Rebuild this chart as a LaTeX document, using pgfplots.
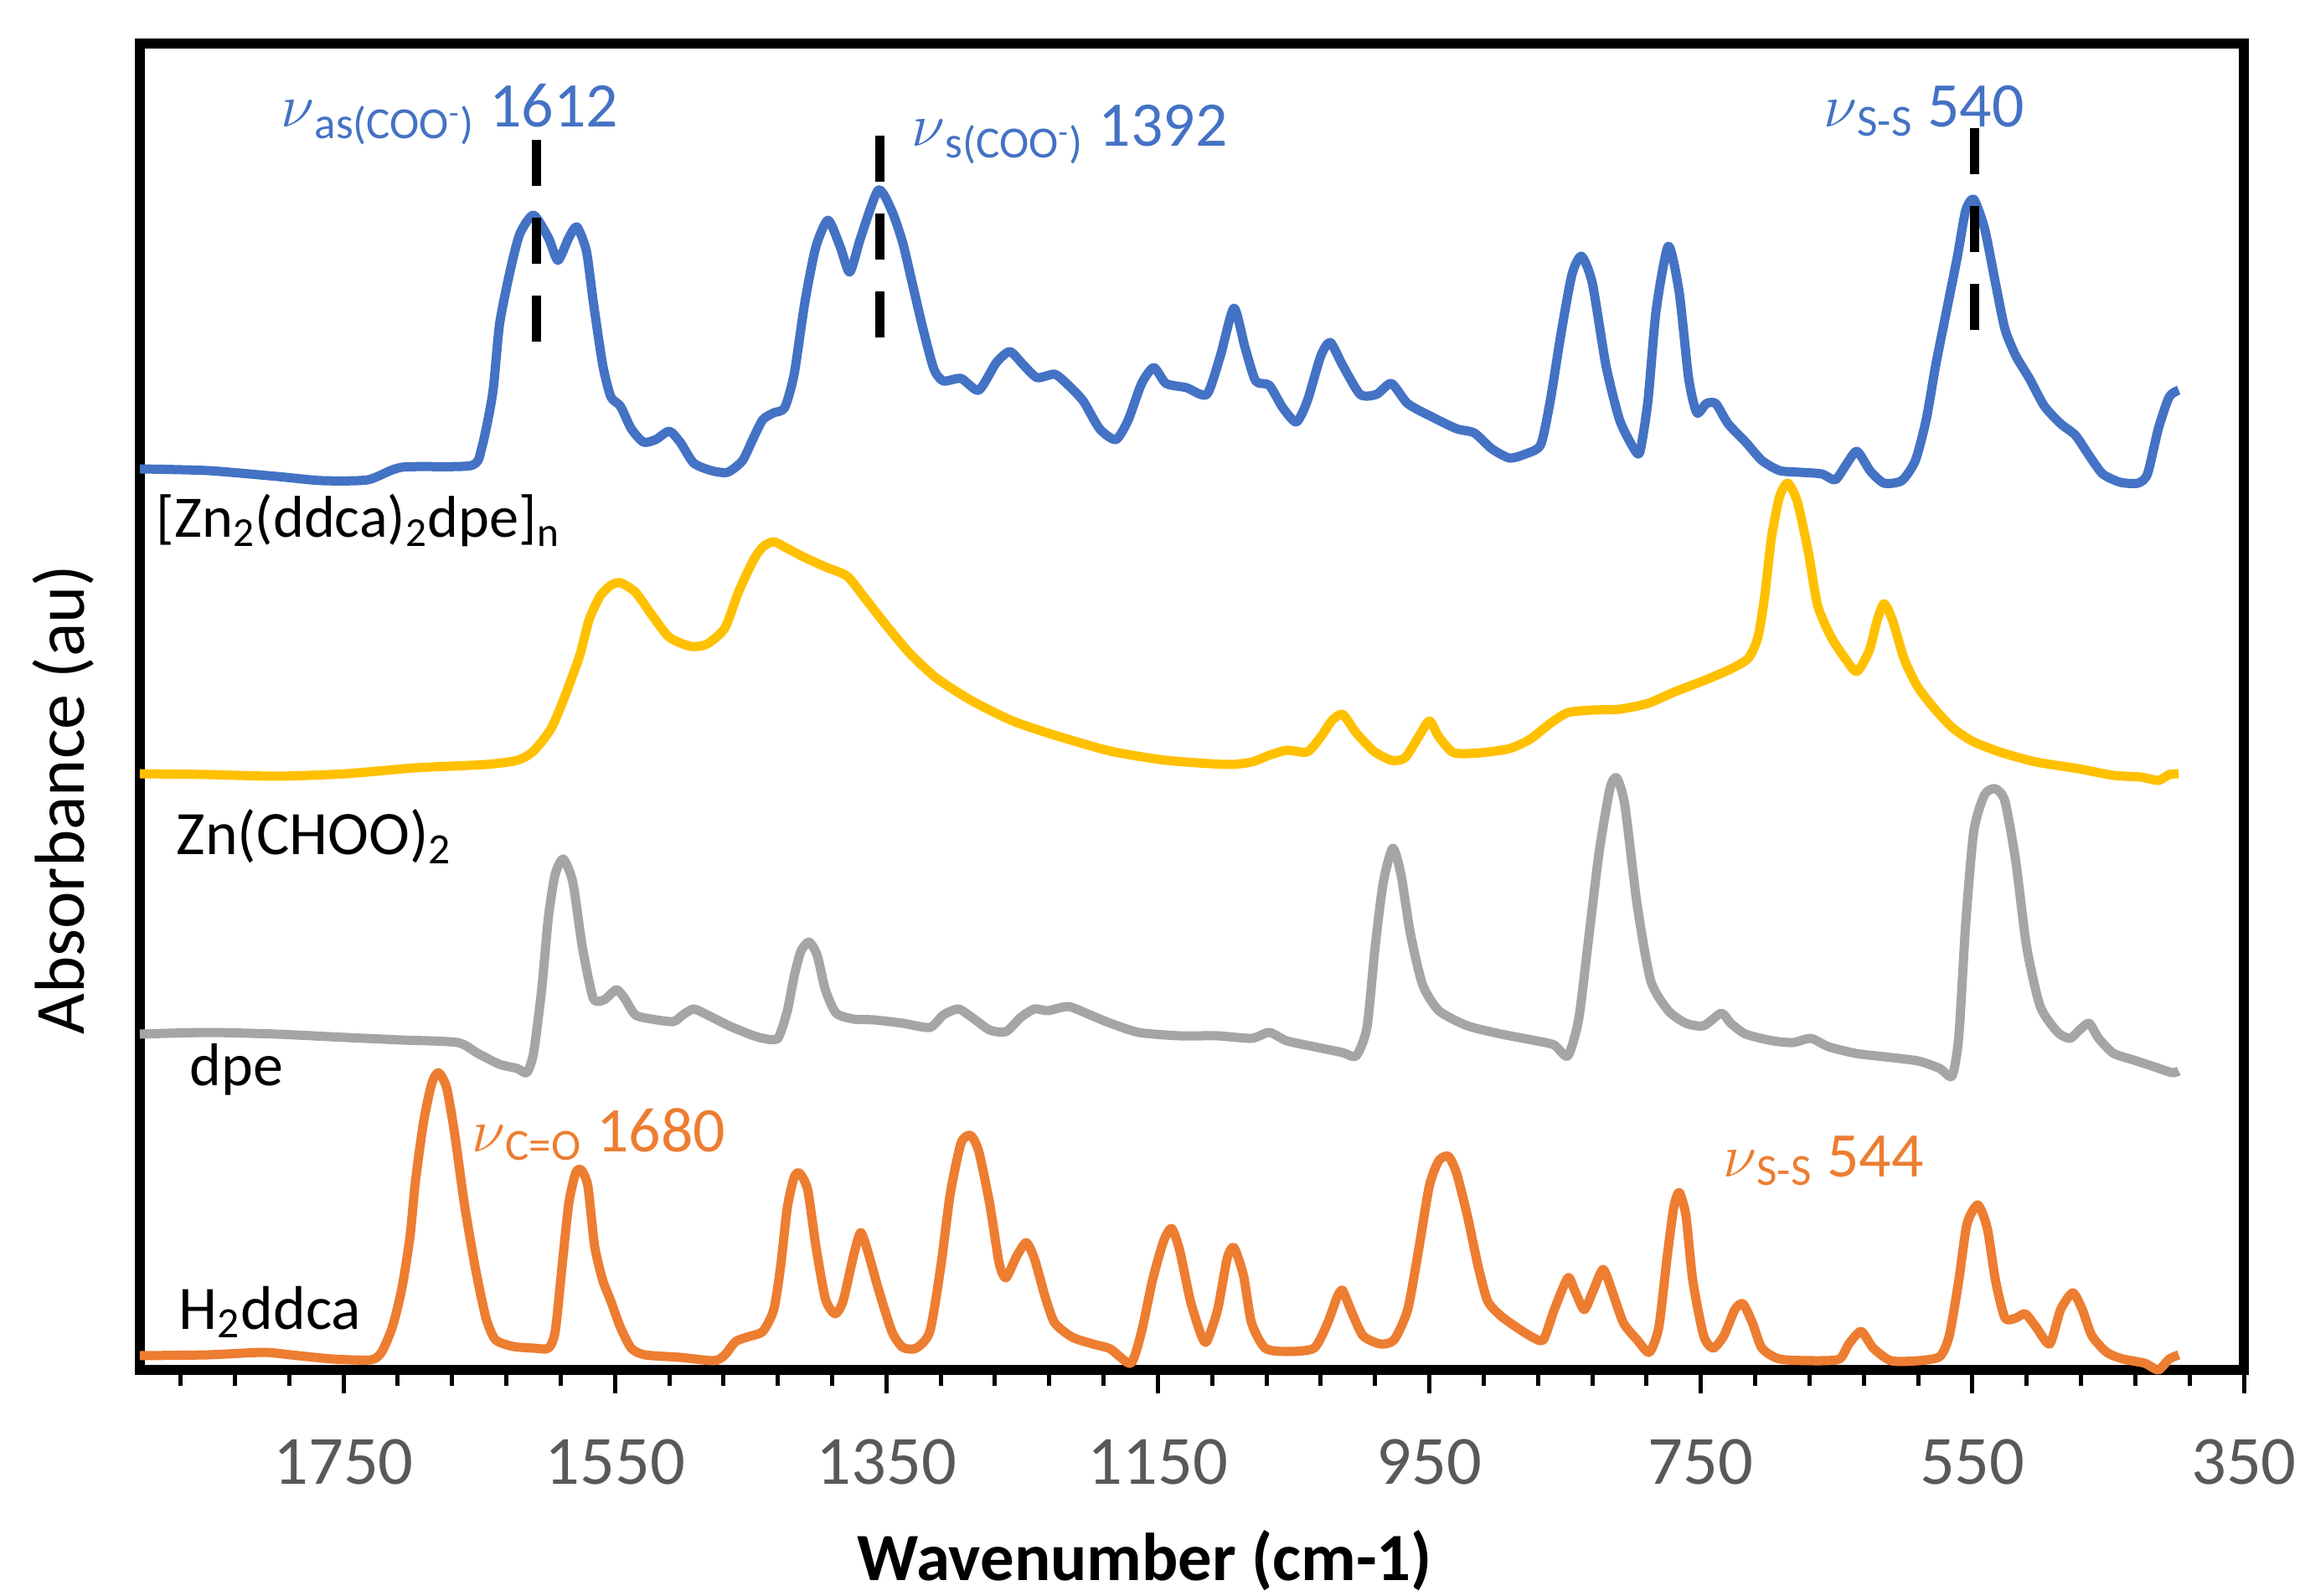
\documentclass[border=0pt]{standalone}
\usepackage{pgfplots}
\pgfplotsset{compat=1.18}
\usepackage{fontspec}
\setmainfont{Carlito}
\definecolor{cblue}{HTML}{4472C4}
\definecolor{cyellow}{HTML}{FFC000}
\definecolor{cgray}{HTML}{A5A5A5}
\definecolor{corange}{HTML}{ED7D31}
\definecolor{tickgray}{HTML}{595959}
\begin{document}
\begin{tikzpicture}
\begin{axis}[
  at={(1.67cm,2.69cm)}, anchor=south west,
  scale only axis, width=25.12cm, height=15.84cm,
  xmin=350, xmax=1900, ymin=0, ymax=1584,
  x dir=reverse,
  axis line style={line width=0.12cm, black},
  xtick={350,550,...,1750},
  minor xtick={390,430,...,1870},
  xtick pos=left, ytick=\empty,
  tick align=outside,
  major tick length=0.28cm, minor tick length=0.19cm,
  tick style={black, line width=0.05cm},
  xticklabel style={font=\fontsize{23.5}{24}\selectfont, text=tickgray, anchor=base, yshift=-1.08cm, inner sep=0pt},
  /pgf/number format/assume math mode=true,
  /pgf/number format/1000 sep={},
  clip=false,
  every axis plot/.append style={line width=0.11cm, smooth, tension=0.4, line join=round, mark=none},
]
% [Zn2(ddca)2dpe]n
\addplot[cblue] coordinates {(1900,1076)(1850,1074)(1799,1067)(1766,1062)(1732,1063)(1707,1078)(1656,1080)(1648,1102)(1640,1167)(1635,1249)(1627,1314)(1620,1357)(1610,1379)(1599,1352)(1592,1325)(1584,1352)(1578,1365)(1571,1336)(1566,1276)(1559,1200)(1553,1162)(1546,1151)(1538,1124)(1529,1108)(1520,1111)(1510,1121)(1502,1108)(1492,1083)(1479,1074)(1467,1072)(1456,1086)(1448,1113)(1441,1135)(1433,1143)(1425,1149)(1418,1189)(1410,1276)(1402,1341)(1393,1373)(1384,1341)(1377,1311)(1369,1352)(1356,1409)(1346,1384)(1338,1346)(1331,1298)(1323,1243)(1315,1195)(1308,1181)(1295,1184)(1282,1170)(1269,1203)(1259,1216)(1249,1200)(1239,1185)(1226,1189)(1216,1176)(1205,1157)(1193,1124)(1181,1111)(1172,1134)(1162,1178)(1153,1197)(1144,1178)(1129,1173)(1114,1165)(1104,1211)(1094,1268)(1086,1222)(1078,1181)(1068,1176)(1058,1149)(1048,1132)(1040,1157)(1030,1211)(1023,1227)(1014,1200)(1001,1165)(989,1165)(978,1178)(966,1154)(948,1138)(930,1124)(917,1119)(904,1100)(891,1089)(879,1094)(868,1105)(861,1157)(853,1238)(845,1308)(838,1330)(830,1298)(820,1200)(810,1135)(800,1102)(795,1096)(789,1157)(783,1265)(774,1342)(766,1287)(759,1184)(753,1143)(746,1154)(739,1154)(730,1130)(717,1108)(705,1086)(692,1074)(677,1072)(661,1070)(651,1063)(643,1081)(635,1097)(625,1073)(615,1059)(602,1062)(592,1086)(584,1135)(577,1200)(569,1265)(561,1330)(555,1384)(549,1398)(541,1363)(533,1298)(526,1243)(518,1211)(508,1184)(497,1151)(485,1130)(474,1116)(464,1092)(454,1070)(441,1060)(428,1059)(421,1070)(413,1124)(405,1162)(398,1170)};
% Zn(CHOO)2
\addplot[cyellow] coordinates {(1900,712)(1850,711)(1799,709)(1748,712)(1697,719)(1645,723)(1622,728)(1610,739)(1597,766)(1587,804)(1576,853)(1569,896)(1561,924)(1553,937)(1546,940)(1535,929)(1523,902)(1510,875)(1494,864)(1482,867)(1469,886)(1459,929)(1448,967)(1441,983)(1433,989)(1423,981)(1410,970)(1395,959)(1379,948)(1367,924)(1351,891)(1333,856)(1313,826)(1287,799)(1257,775)(1226,758)(1185,739)(1144,728)(1099,723)(1081,726)(1068,734)(1055,740)(1040,738)(1030,756)(1022,775)(1014,783)(1004,761)(991,739)(978,728)(968,731)(958,756)(950,775)(943,756)(932,737)(912,737)(891,742)(876,753)(861,772)(848,785)(830,788)(810,789)(789,796)(769,810)(748,823)(728,837)(715,850)(708,875)(703,924)(698,994)(692,1043)(686,1059)(679,1037)(671,978)(664,913)(654,875)(643,848)(635,834)(626,859)(620,896)(615,915)(609,896)(600,848)(590,815)(577,788)(564,766)(549,750)(528,737)(503,726)(472,718)(446,710)(426,708)(413,704)(405,711)(398,712)};
% dpe
\addplot[cgray] coordinates {(1900,401)(1850,403)(1799,401)(1748,397)(1707,394)(1666,391)(1651,378)(1635,365)(1622,360)(1615,355)(1610,378)(1604,454)(1599,541)(1594,592)(1588,610)(1581,582)(1574,505)(1566,444)(1558,442)(1549,454)(1543,444)(1535,424)(1523,419)(1507,416)(1500,424)(1492,431)(1482,424)(1466,411)(1451,401)(1441,396)(1430,396)(1423,429)(1418,470)(1413,500)(1407,511)(1401,495)(1395,454)(1387,426)(1374,419)(1359,418)(1338,414)(1318,409)(1308,424)(1297,431)(1287,421)(1274,406)(1262,404)(1251,421)(1241,431)(1231,429)(1216,434)(1200,424)(1185,414)(1164,403)(1134,399)(1106,399)(1081,396)(1068,403)(1055,393)(1035,386)(1014,379)(1004,375)(996,409)(990,505)(984,582)(977,623)(971,592)(964,521)(955,460)(943,429)(922,411)(897,401)(871,393)(858,388)(848,375)(840,419)(833,511)(825,618)(817,694)(812,707)(806,674)(797,556)(787,465)(774,429)(761,414)(748,411)(735,426)(728,414)(717,401)(697,393)(682,391)(669,396)(656,386)(636,378)(615,374)(590,369)(574,360)(565,351)(560,398)(555,531)(549,643)(541,687)(533,694)(526,679)(518,607)(510,505)(500,434)(487,403)(478,396)(471,406)(464,414)(457,396)(446,378)(431,370)(416,362)(403,355)(398,357)};
% H2ddca
\addplot[corange] coordinates {(1900,17)(1850,18)(1809,21)(1789,18)(1758,13)(1730,12)(1722,21)(1714,51)(1707,97)(1701,159)(1697,225)(1691,296)(1685,342)(1680,355)(1674,337)(1668,281)(1661,199)(1653,123)(1645,62)(1638,36)(1625,28)(1610,26)(1599,26)(1594,46)(1589,123)(1584,199)(1579,235)(1575,239)(1570,220)(1565,148)(1559,107)(1553,82)(1546,51)(1538,26)(1528,18)(1502,15)(1477,11)(1469,18)(1461,34)(1451,40)(1441,46)(1433,72)(1428,123)(1423,194)(1418,230)(1414,235)(1408,215)(1402,148)(1395,85)(1388,67)(1382,82)(1374,138)(1369,164)(1364,143)(1356,97)(1346,46)(1338,27)(1328,26)(1318,46)(1310,123)(1303,210)(1295,271)(1288,280)(1282,261)(1274,199)(1267,128)(1262,110)(1254,136)(1247,152)(1241,133)(1233,87)(1226,56)(1213,39)(1198,31)(1185,25)(1170,8)(1162,46)(1154,107)(1146,153)(1140,169)(1134,143)(1126,82)(1118,41)(1114,34)(1106,72)(1099,133)(1094,146)(1087,113)(1081,56)(1071,26)(1055,22)(1035,26)(1025,56)(1018,87)(1014,95)(1008,72)(999,41)(986,31)(976,36)(966,72)(958,143)(950,220)(943,250)(936,255)(930,235)(922,184)(914,123)(907,82)(897,64)(884,49)(874,39)(866,36)(858,72)(848,110)(843,95)(836,72)(830,92)(822,120)(815,92)(807,56)(797,36)(788,21)(781,51)(775,133)(770,194)(766,212)(761,184)(756,107)(748,41)(741,26)(733,41)(725,72)(719,79)(712,56)(705,26)(692,13)(666,11)(648,13)(641,31)(632,46)(623,26)(610,11)(590,11)(574,16)(567,41)(560,107)(554,174)(546,197)(539,169)(533,107)(526,62)(518,62)(511,67)(503,51)(493,31)(485,72)(476,92)(469,72)(462,41)(451,21)(439,13)(423,8)(413,0)(405,13)(398,18)};
% dashed markers
\draw[black, line width=0.11cm, dash pattern=on 0.55cm off 0.38cm] (axis cs:1608,1469) -- (axis cs:1608,1228);
\draw[black, line width=0.11cm, dash pattern=on 0.55cm off 0.38cm] (axis cs:1355,1474) -- (axis cs:1355,1229);
\draw[black, line width=0.11cm, dash pattern=on 0.55cm off 0.38cm] (axis cs:548.6,1483) -- (axis cs:548.6,1239);
\end{axis}
% series labels
\node[anchor=base west, inner sep=0pt, font=\fontsize{20}{20}\selectfont] at (1.86,12.63) {[Zn\textsubscript{2}(ddca)\textsubscript{2}dpe]\textsubscript{n}};
\node[anchor=base west, inner sep=0pt, font=\fontsize{21}{21}\selectfont] at (2.10,8.84) {Zn(CHOO)\textsubscript{2}};
\node[anchor=base west, inner sep=0pt, font=\fontsize{20.5}{21}\selectfont] at (2.26,6.09) {dpe};
\node[anchor=base west, inner sep=0pt, font=\fontsize{21}{21}\selectfont] at (2.13,3.18) {H\textsubscript{2}ddca};
% annotations
\node[anchor=base west, inner sep=0pt, text=cblue, font=\fontsize{21.6}{22}\selectfont] at (3.35,17.53) {$\nu$\textsubscript{as(COO\textsuperscript{-})} 1612};
\node[anchor=base west, inner sep=0pt, text=cblue, font=\fontsize{21.6}{22}\selectfont] at (10.88,17.30) {$\nu$\textsubscript{s(COO\textsuperscript{-})} 1392};
\node[anchor=base west, inner sep=0pt, text=cblue, font=\fontsize{21.6}{22}\selectfont] at (21.77,17.53) {$\nu$\textsubscript{S-S} 540};
\node[anchor=base west, inner sep=0pt, text=corange, font=\fontsize{21.6}{22}\selectfont] at (5.63,5.30) {$\nu$\textsubscript{C=O} 1680};
\node[anchor=base west, inner sep=0pt, text=corange, font=\fontsize{21.6}{22}\selectfont] at (20.57,5.00) {$\nu$\textsubscript{S-S} 544};
% axis titles
\node[anchor=base, inner sep=0pt, rotate=90, font=\fontsize{24}{24}\selectfont] at (1.00,9.50) {Absorbance (au)};
\node[anchor=base, inner sep=0pt, font=\bfseries\fontsize{23}{23}\selectfont] at (13.67,0.18) {Wavenumber (cm-1)};
\pgfresetboundingbox
\path[use as bounding box] (0,0) rectangle (27.52,19.05);
\end{tikzpicture}
\end{document}
